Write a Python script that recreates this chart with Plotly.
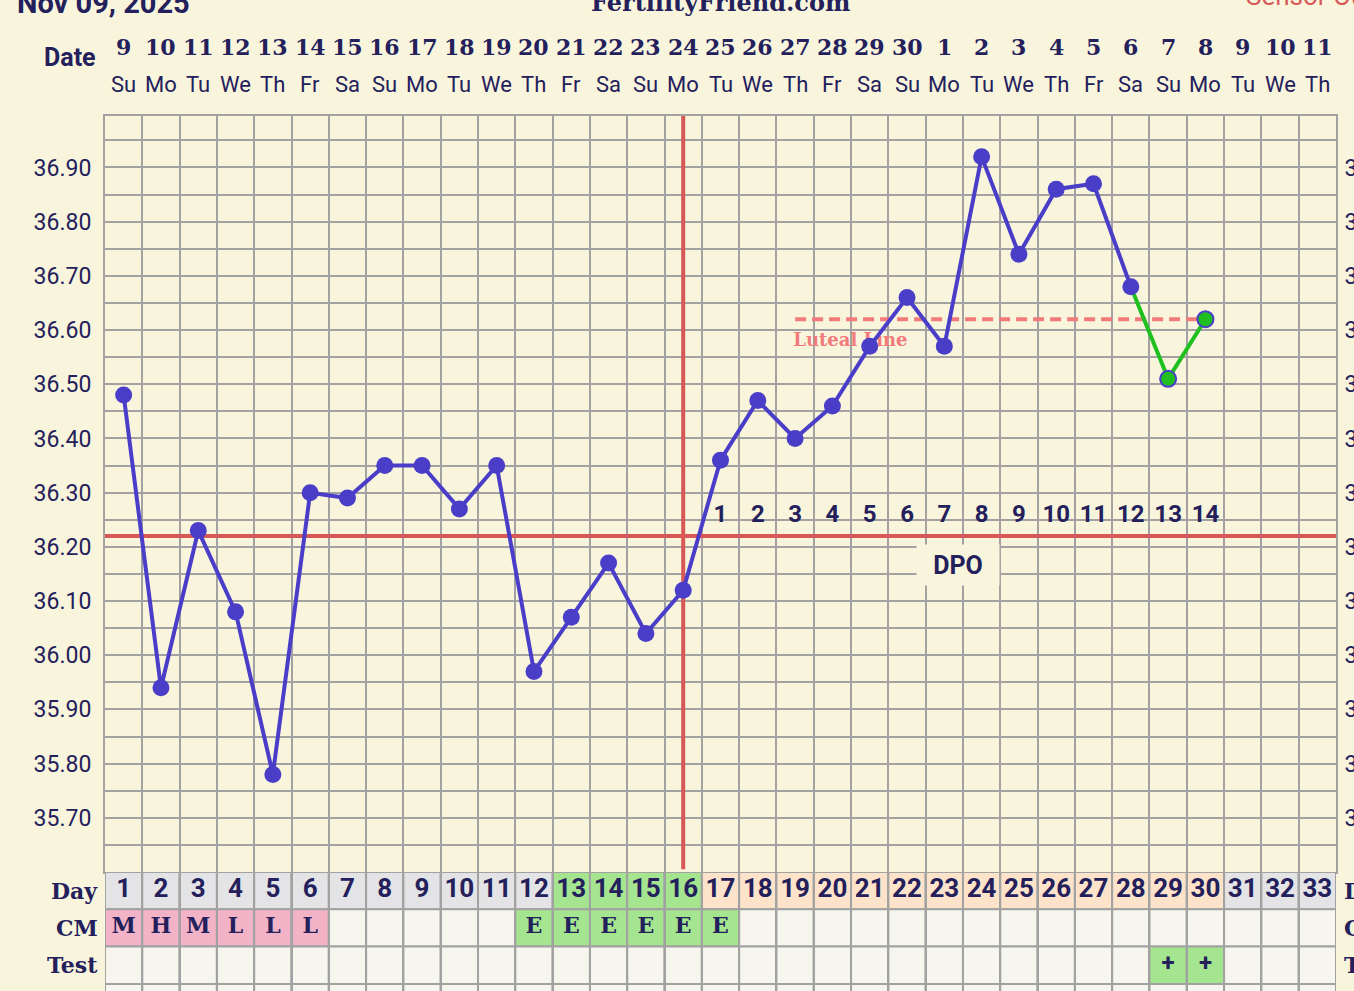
import plotly.graph_objects as go

# ---------------- data ----------------
days = list(range(1, 34))
date_nums = ['9', '10', '11', '12', '13', '14', '15', '16', '17', '18', '19', '20', '21', '22',
             '23', '24', '25', '26', '27', '28', '29', '30', '1', '2', '3', '4', '5', '6', '7',
             '8', '9', '10', '11']
weekdays = ['Su', 'Mo', 'Tu', 'We', 'Th', 'Fr', 'Sa', 'Su', 'Mo', 'Tu', 'We', 'Th', 'Fr', 'Sa',
            'Su', 'Mo', 'Tu', 'We', 'Th', 'Fr', 'Sa', 'Su', 'Mo', 'Tu', 'We', 'Th', 'Fr', 'Sa',
            'Su', 'Mo', 'Tu', 'We', 'Th']
temp_days = list(range(1, 31))
temps = [36.48, 35.94, 36.23, 36.08, 35.78, 36.30, 36.29, 36.35, 36.35, 36.27,
         36.35, 35.97, 36.07, 36.17, 36.04, 36.12, 36.36, 36.47, 36.40, 36.46,
         36.57, 36.66, 36.57, 36.92, 36.74, 36.86, 36.87, 36.68, 36.51, 36.62]
n_blue = 28                     # days 1..28 normal, 29..30 green
coverline = 36.22
ovulation_day = 16
luteal_value = 36.62
luteal_start, luteal_end = 19, 30.15
dpo_days = list(range(17, 31))
dpo_labels = [str(i) for i in range(1, 15)]
dpo_y = 36.257
y_labels = ['35.70', '35.80', '35.90', '36.00', '36.10', '36.20', '36.30', '36.40',
            '36.50', '36.60', '36.70', '36.80', '36.90']
y_grid = [35.60, 35.65, 35.70, 35.75, 35.80, 35.85, 35.90, 35.95, 36.00, 36.05, 36.10,
          36.15, 36.20, 36.25, 36.30, 36.35, 36.40, 36.45, 36.50, 36.55, 36.60, 36.65,
          36.70, 36.75, 36.80, 36.85, 36.90, 36.95]
y_range = [35.60, 36.995]
cm = ['M', 'H', 'M', 'L', 'L', 'L', '', '', '', '', '', 'E', 'E', 'E', 'E', 'E', 'E'] + [''] * 16
tests = [''] * 28 + ['+', '+'] + [''] * 3
fertile_days = [13, 14, 15, 16]
luteal_days = list(range(17, 31))

# ---------------- style ----------------
W, H = 1354, 991
ML, MR, MT, MB = 105, 18, 116, 0
PW, PH = W - ML - MR, H - MT - MB
def px(x): return (x - ML) / PW
def py(y): return (H - MB - y) / PH

BG = '#f9f5dd'
NAVY = '#23205c'
GRID = '#a2a2a2'
BLUE = '#4a3ec8'
GREEN = '#1fbf1f'
RED = '#d85858'
SALMON = '#f27a7a'
CELL = '#f6f6ee'
DAYGRAY = '#e4e4e6'
FGREEN = '#a5e58f'
PEACH = '#fde3c9'
PINK = '#f3b3c6'
SANS = 'Roboto'
SLAB = 'DejaVu Serif'

table_h = (H - 872) / PH
rows_visible = (H - 872) / 37.3

fig = go.Figure()

# coverline & ovulation line
fig.add_trace(go.Scatter(x=[0.5, 33.5], y=[coverline, coverline], mode='lines',
                         line=dict(color=RED, width=4), hoverinfo='skip'))
fig.add_trace(go.Scatter(x=[ovulation_day, ovulation_day], y=[35.605, y_range[1]], mode='lines',
                         line=dict(color=RED, width=4), hoverinfo='skip'))
# luteal line
fig.add_trace(go.Scatter(x=[luteal_start, luteal_end], y=[luteal_value, luteal_value], mode='lines',
                         line=dict(color=SALMON, width=4, dash='11px,6px'), hoverinfo='skip'))
fig.add_trace(go.Scatter(x=[luteal_start - 0.05], y=[36.578], mode='text', text=['Luteal Line'],
                         textposition='middle right',
                         textfont=dict(family=SLAB, size=18, color=SALMON, weight='bold'),
                         hoverinfo='skip'))
# DPO numbers
fig.add_trace(go.Scatter(x=dpo_days, y=[dpo_y] * len(dpo_days), mode='text', text=dpo_labels,
                         textfont=dict(family=SANS, size=24, color=NAVY, weight='bold'),
                         hoverinfo='skip'))
# temperature line
fig.add_trace(go.Scatter(x=temp_days[n_blue - 1:], y=temps[n_blue - 1:], mode='lines',
                         line=dict(color=GREEN, width=4), hoverinfo='skip'))
fig.add_trace(go.Scatter(x=temp_days[:n_blue], y=temps[:n_blue], mode='lines+markers',
                         line=dict(color=BLUE, width=4),
                         marker=dict(size=17, color=BLUE), hoverinfo='skip'))
fig.add_trace(go.Scatter(x=temp_days[n_blue:], y=temps[n_blue:], mode='markers',
                         marker=dict(size=16, color=GREEN, line=dict(color=BLUE, width=2)),
                         hoverinfo='skip'))

# table cells
shapes = []
for i, d in enumerate(days):
    if d in fertile_days:
        dc = FGREEN
    elif d in luteal_days:
        dc = PEACH
    else:
        dc = DAYGRAY
    if cm[i] in ('M', 'H', 'L'):
        cc = PINK
    elif cm[i] == 'E':
        cc = FGREEN
    else:
        cc = CELL
    tc = FGREEN if tests[i] else CELL
    for r, col in enumerate([dc, cc, tc, CELL]):
        shapes.append(dict(type='rect', xref='x', yref='y2', x0=d - 0.5, x1=d + 0.5,
                           y0=r, y1=r + 1, fillcolor=col, line=dict(color=GRID, width=2),
                           layer='below'))

fig.add_trace(go.Scatter(x=days, y=[0.5] * len(days), yaxis='y2', mode='text',
                         text=[str(d) for d in days],
                         textfont=dict(family=SANS, size=26, color=NAVY, weight='bold'),
                         hoverinfo='skip'))
fig.add_trace(go.Scatter(x=days, y=[1.5] * len(days), yaxis='y2', mode='text', text=cm,
                         textfont=dict(family=SLAB, size=22, color=NAVY, weight='bold'),
                         hoverinfo='skip'))
fig.add_trace(go.Scatter(x=days, y=[2.5] * len(days), yaxis='y2', mode='text', text=tests,
                         textfont=dict(family=SANS, size=24, color=NAVY, weight='bold'),
                         hoverinfo='skip'))
# right axis carrier
fig.add_trace(go.Scatter(x=temp_days, y=temps, yaxis='y3', mode='lines', opacity=0,
                         hoverinfo='skip'))

ann = []
for d, dn, wd in zip(days, date_nums, weekdays):
    ann.append(dict(x=d, y=py(47), xref='x', yref='paper', text=dn, showarrow=False,
                    yanchor='middle',
                    font=dict(family=SLAB, size=22, color=NAVY, weight='bold')))
    ann.append(dict(x=d, y=py(84), xref='x', yref='paper', text=wd, showarrow=False,
                    yanchor='middle',
                    font=dict(family=SANS, size=22, color=NAVY)))
ann.append(dict(x=px(98), y=py(57), xref='paper', yref='paper', text='Date', showarrow=False,
                xanchor='right', yanchor='middle',
                font=dict(family=SANS, size=25, color=NAVY, weight='bold')))
for r, lab in enumerate(['Day', 'CM', 'Test']):
    ann.append(dict(x=px(100), y=r + 0.5, xref='paper', yref='y2', text=lab, showarrow=False,
                    xanchor='right', yanchor='middle',
                    font=dict(family=SLAB, size=22, color=NAVY, weight='bold')))
    ann.append(dict(x=px(1342), y=r + 0.5, xref='paper', yref='y2', text=lab, showarrow=False,
                    xanchor='left', yanchor='middle',
                    font=dict(family=SLAB, size=22, color=NAVY, weight='bold')))
ann.append(dict(x=23.37, y=36.167, xref='x', yref='y', text='DPO', showarrow=False,
                bgcolor=BG, width=80, height=38, yanchor='middle',
                font=dict(family=SANS, size=25, color=NAVY, weight='bold')))
# titles (cut by the top edge)
ann.append(dict(x=px(15), y=py(3), xref='paper', yref='paper', text='Nov 09, 2025',
                showarrow=False, xanchor='left', yanchor='middle',
                font=dict(family=SANS, size=29, color=NAVY, weight='bold')))
ann.append(dict(x=px(720), y=py(3), xref='paper', yref='paper', text='FertilityFriend.com',
                showarrow=False, xanchor='center', yanchor='middle',
                font=dict(family=SLAB, size=24, color=NAVY, weight='bold')))
ann.append(dict(x=px(1244), y=py(-4), xref='paper', yref='paper', text='Sensor Out',
                showarrow=False, xanchor='left', yanchor='middle',
                font=dict(family=SANS, size=26, color=RED)))

ticktext = [f'{v:.2f}' if f'{v:.2f}' in y_labels else '' for v in y_grid]

fig.update_layout(
    width=W, height=H, margin=dict(l=ML, r=MR, t=MT, b=MB, pad=0, autoexpand=False),
    paper_bgcolor=BG, plot_bgcolor=BG, showlegend=False,
    xaxis=dict(range=[0.5, 33.5], tickmode='linear', tick0=0.5, dtick=1, showticklabels=False,
               showgrid=True, gridcolor=GRID, gridwidth=2, zeroline=False, ticks='',
               anchor='y', side='top', showline=True, linecolor=GRID, linewidth=2, mirror=True,
               automargin=False),
    yaxis=dict(domain=[table_h, 1], range=y_range, tickmode='array', tickvals=y_grid,
               ticktext=ticktext, showgrid=True, gridcolor=GRID, gridwidth=2, zeroline=False,
               ticks='outside', ticklen=7, tickcolor='rgba(0,0,0,0)',
               tickfont=dict(family=SANS, size=23, color=NAVY), automargin=False,
               showline=True, linecolor=GRID, linewidth=2, mirror=True),
    yaxis2=dict(domain=[0, table_h], range=[rows_visible, 0], showgrid=False, zeroline=False,
                showticklabels=False, ticks='', automargin=False),
    yaxis3=dict(overlaying='y', side='right', range=y_range, tickmode='array', tickvals=y_grid,
                ticktext=ticktext, showgrid=False, zeroline=False, automargin=False,
                ticks='outside', ticklen=3, tickcolor='rgba(0,0,0,0)',
                tickfont=dict(family=SANS, size=23, color=NAVY)),
    shapes=shapes, annotations=ann,
)

fig.write_html("out.html", config={'displayModeBar': False},
               post_script="document.body.style.margin='0';document.body.style.overflow='hidden';")
